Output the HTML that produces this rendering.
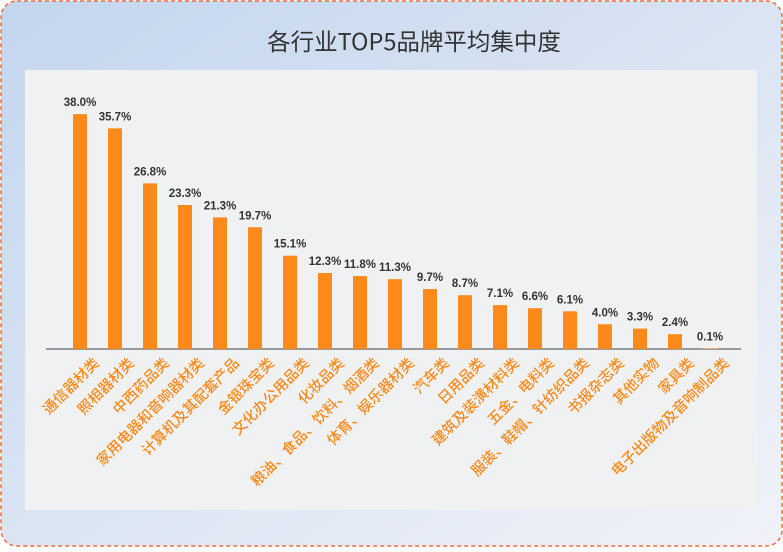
<!DOCTYPE html>
<html><head><meta charset="utf-8"><style>
body{margin:0;width:783px;height:547px;overflow:hidden;font-family:"Liberation Sans","Noto Sans CJK SC",sans-serif}
</style></head><body>
<svg width="783" height="547" xmlns="http://www.w3.org/2000/svg" font-family="Liberation Sans, Noto Sans CJK SC, sans-serif">
<defs><linearGradient id="g" x1="0" y1="0" x2="1" y2="1"><stop offset="0" stop-color="#c3d6ee"/><stop offset="1" stop-color="#f1f2f8"/></linearGradient></defs>
<rect x="1" y="1" width="781" height="545" rx="16" fill="url(#g)" stroke="#f26b3a" stroke-width="1.5" stroke-dasharray="4,3"/>
<text x="414" y="50" text-anchor="middle" font-size="23.5" fill="#333" font-family="Noto Sans CJK SC, sans-serif">各行业TOP5品牌平均集中度</text>
<rect x="25" y="70" width="732" height="440" fill="#f0f1f3"/>
<line x1="46" y1="349" x2="741" y2="349" stroke="#444" stroke-width="1"/>
<g id="bars"></g>
</svg>
<script>
var d=[["通信器材类",38.0],["照相器材类",35.7],["中西药品类",26.8],["家用电器和音响器材类",23.3],["计算机及其配套产品",21.3],["金银珠宝类",19.7],["文化办公用品类",15.1],["化妆品类",12.3],["粮油、食品、饮料、烟酒类",11.8],["体育、娱乐器材类",11.3],["汽车类",9.7],["日用品类",8.7],["建筑及装潢材料类",7.1],["五金、电料类",6.6],["服装、鞋帽、针纺织品类",6.1],["书报杂志类",4.0],["其他实物",3.3],["家具类",2.4],["电子出版物及音响制品类",0.1]];
var g=document.getElementById("bars"),s="";
d.forEach(function(e,i){var c=80+35*i,h=e[1]*6.18,t=349-h;
s+='<rect x="'+(c-7)+'" y="'+t+'" width="14" height="'+h+'" fill="#fb8a1a"/>';
s+='<text x="'+c+'" y="'+(t-8)+'" text-anchor="middle" font-size="11.5" font-weight="bold" fill="#333">'+e[1].toFixed(1)+'%</text>';
s+='<text transform="translate('+(c+11)+',355) rotate(-45)" text-anchor="end" dominant-baseline="hanging" font-size="14.5" font-weight="500" fill="#fb8a1a" font-family="Noto Sans CJK SC, sans-serif">'+e[0]+'</text>';});
g.innerHTML=s;
</script>
</body></html>
